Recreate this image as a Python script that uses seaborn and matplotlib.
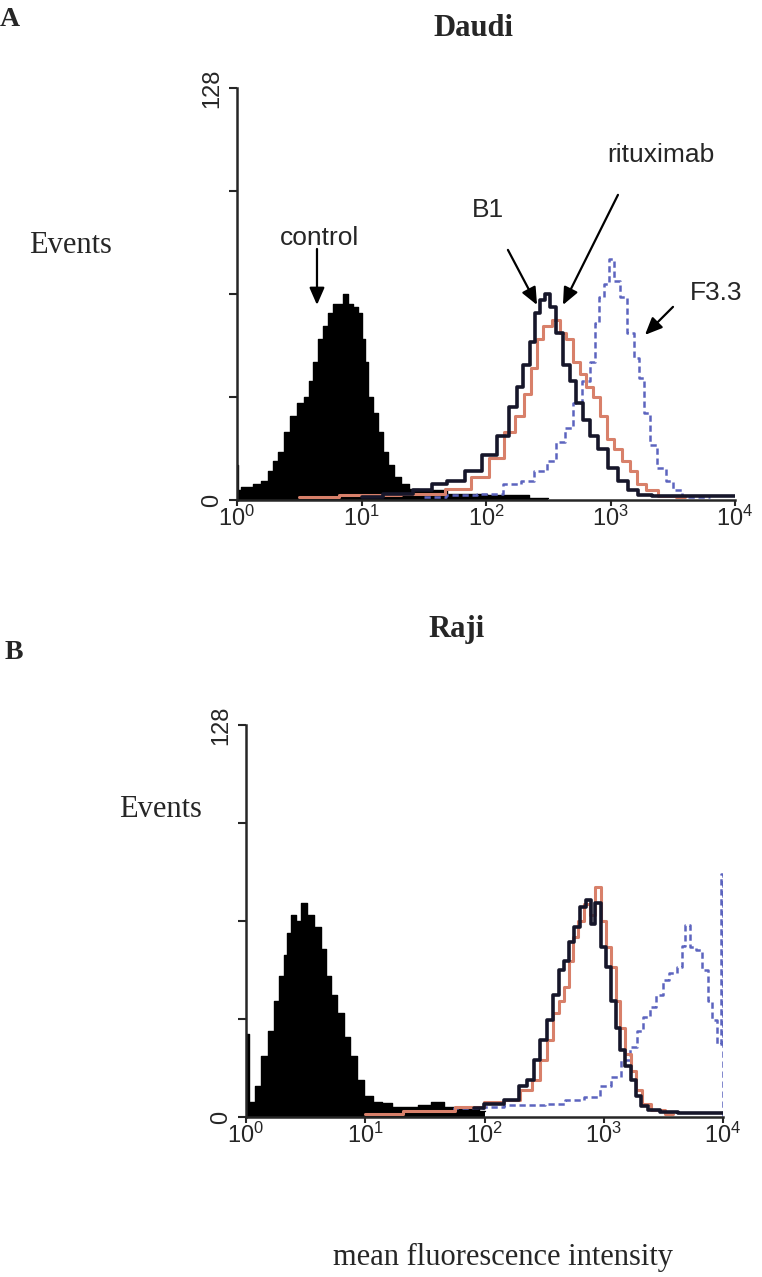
import numpy as np
import matplotlib
matplotlib.use("Agg")
import matplotlib.pyplot as plt
import seaborn as sns

# Daudi (panel A) - x as log10 of fluorescence, y = events
ctrl_top_log = [0.0, 0.02, 0.05, 0.10, 0.16, 0.22, 0.27, 0.30, 0.35, 0.40,
                0.455, 0.51, 0.56, 0.59, 0.63, 0.67, 0.71, 0.75, 0.79, 0.83,
                0.87, 0.91, 0.95, 0.99, 1.02, 1.04, 1.07, 1.11, 1.15, 1.19,
                1.23, 1.29, 1.34, 1.42, 1.50, 1.61, 1.75, 1.90, 2.1, 2.5]
ctrl_top_h = [11, 3, 4, 4, 5, 6, 9, 12, 15, 21,
              26, 30, 32, 37, 43, 50, 54, 58, 61, 61,
              64, 61, 60, 58, 50, 43, 32, 27, 21, 15,
              11, 7, 5, 3.5, 3, 3, 2, 2, 1.5, 0.5]

b1_top_log = [1.0, 1.3, 1.5, 1.63, 1.74, 1.90, 2.03, 2.14, 2.22, 2.27,
              2.33, 2.37, 2.41, 2.45, 2.49, 2.54, 2.59, 2.65, 2.70, 2.75,
              2.81, 2.86, 2.94, 3.02, 3.10, 3.18, 3.26, 3.4, 3.6, 3.8, 4.0]
b1_top_h = [1, 2, 3, 5, 6, 9, 14, 20, 29, 35,
            42, 49, 58, 62, 64, 60, 52, 42, 37, 30,
            25, 20, 16, 10, 6, 3, 1.5, 1.2, 1.2, 1.2, 1.2]

rtx_top_log = [0.5, 1.0, 1.5, 1.79, 1.95, 2.09, 2.19, 2.27, 2.34, 2.38,
               2.43, 2.49, 2.56, 2.62, 2.67, 2.73, 2.78, 2.83, 2.89, 2.94,
               3.00, 3.05, 3.13, 3.18, 3.24, 3.32, 3.43, 3.6]
rtx_top_h = [1, 1.5, 2, 3.3, 7, 13, 21, 26, 33, 41,
             50, 54, 56, 52, 50, 43, 39, 35, 32, 26,
             19, 16, 12, 9, 5, 3, 1.3, 0.8]

f33_top_log = [1.5, 1.8, 2.03, 2.22, 2.33, 2.43, 2.54, 2.59, 2.67, 2.73,
               2.81, 2.86, 2.89, 2.93, 2.97, 3.01, 3.05, 3.10, 3.16, 3.21,
               3.25, 3.29, 3.34, 3.40, 3.48, 3.53, 3.61, 3.8]
f33_top_h = [1, 1.5, 2, 5, 6, 9, 12, 18, 22.5, 30,
             37, 43, 55, 63, 67, 75, 68, 63, 52, 44,
             38, 27, 17, 10, 6, 3, 1, 0.8]

# Raji (panel B)
ctrl_bot_log = [0.0, 0.05, 0.095, 0.15, 0.21, 0.26, 0.30, 0.33, 0.36, 0.40,
                0.44, 0.485, 0.54, 0.60, 0.65, 0.69, 0.74, 0.79, 0.85, 0.90,
                0.96, 1.02, 1.10, 1.18, 1.27, 1.38, 1.50, 1.60, 1.71, 1.91, 2.0]
ctrl_bot_h = [27, 5, 10, 20, 28, 38, 46, 53, 60, 66,
              64, 70, 66, 62, 55, 46, 40, 34, 26, 20,
              12, 7, 5, 4.5, 3.4, 3.4, 4, 5, 3.4, 3.4, 2]

b1_bot_log = [1.91, 2.07, 2.24, 2.33, 2.38, 2.44, 2.49, 2.55, 2.60, 2.65,
              2.69, 2.73, 2.77, 2.83, 2.87, 2.91, 2.95, 3.00, 3.04, 3.08,
              3.12, 3.16, 3.20, 3.25, 3.29, 3.33, 3.41, 3.53, 3.7, 3.85, 4.0]
b1_bot_h = [2.8, 4.4, 5.5, 10, 12, 18.5, 25, 31.6, 40, 48,
            51, 57, 62, 68.5, 71, 63, 70, 55.5, 49, 38,
            29, 22, 16.5, 12, 7, 3.5, 2.4, 1.6, 1.2, 1.2, 1.2]

rtx_bot_log = [1.0, 1.5, 1.91, 2.07, 2.24, 2.35, 2.44, 2.49, 2.55, 2.60,
               2.65, 2.69, 2.72, 2.76, 2.80, 2.86, 2.91, 2.95, 3.00, 3.04,
               3.08, 3.12, 3.16, 3.20, 3.25, 3.29, 3.35, 3.44, 3.58]
rtx_bot_h = [1, 2, 3.3, 5, 5.5, 8.8, 12, 18.5, 25, 33.8,
             38, 42.4, 51, 58.7, 64, 69.6, 66, 75, 64, 55.5,
             49, 38, 29, 20.6, 15, 8.8, 4.4, 2.2, 1.1]

f33_bot_log = [1.5, 1.9, 2.08, 2.24, 2.41, 2.58, 2.75, 2.91, 3.02, 3.10,
               3.19, 3.25, 3.30, 3.36, 3.41, 3.47, 3.52, 3.58, 3.64, 3.67,
               3.69, 3.75, 3.80, 3.85, 3.89, 3.93, 3.97, 3.995, 4.0]
f33_bot_h = [2, 3, 3.3, 3.8, 3.8, 4.4, 5.5, 6.6, 10, 13,
             18.5, 23, 28, 32.5, 36, 40, 44.6, 47, 49, 56,
             62.6, 55.5, 54.4, 48, 38, 31.6, 24, 79.4, 0]

y_ticks = [0, 32, 64, 96, 128]
y_labels = ["0", "", "", "", "128"]
x_ticks = [1, 10, 100, 1000, 10000]
x_labels = [r"$10^{0}$", r"$10^{1}$", r"$10^{2}$", r"$10^{3}$", r"$10^{4}$"]

RED = "#d8806a"
BLUE = "#5c64bf"
DARK = "#16162a"

sns.set_style("ticks")
plt.rcParams["font.family"] = ["Liberation Sans", "DejaVu Sans"]
plt.rcParams["mathtext.default"] = "regular"

W, H = 762, 1277
fig = plt.figure(figsize=(W / 100, H / 100), dpi=100)


def px(x, y):
    return x / W, 1 - y / H


def histo(ax, lg, h, **kw):
    sns.lineplot(x=10 ** np.array(lg), y=h, ax=ax, drawstyle="steps-mid",
                 estimator=None, sort=False, **kw)


def style_axes(ax):
    ax.set_xscale("log")
    ax.set_xlim(1, 10000)
    ax.set_ylim(0, 128)
    ax.set_xticks(x_ticks)
    ax.set_xticklabels(x_labels, fontsize=17)
    ax.set_yticks(y_ticks)
    ax.set_yticklabels(y_labels, fontsize=17, rotation=90, va="center")
    ax.minorticks_off()
    ax.tick_params(axis="x", length=4, width=1.5, pad=0)
    ax.tick_params(axis="y", length=6, width=1.5, pad=4)
    for s in ["left", "bottom"]:
        ax.spines[s].set_linewidth(1.8)
    sns.despine(ax=ax)
    ax.set_xlabel("")
    ax.set_ylabel("")


def panel(ax, ctrl, b1, rtx, f33):
    x = 10 ** np.array(ctrl[0])
    ax.fill_between(x, ctrl[1], step="mid", color="black", lw=0)
    histo(ax, ctrl[0], ctrl[1], color="black", lw=1)
    histo(ax, f33[0], f33[1], color=BLUE, lw=1.8, dashes=(2.5, 1.5))
    histo(ax, rtx[0], rtx[1], color=RED, lw=2.2)
    histo(ax, b1[0], b1[1], color=DARK, lw=2.6)
    style_axes(ax)


ax1 = fig.add_axes([237 / W, 1 - 500 / H, 498 / W, 412 / H])
panel(ax1, (ctrl_top_log, ctrl_top_h), (b1_top_log, b1_top_h),
      (rtx_top_log, rtx_top_h), (f33_top_log, f33_top_h))

ax2 = fig.add_axes([246 / W, 1 - 1117 / H, 477 / W, 392 / H])
panel(ax2, (ctrl_bot_log, ctrl_bot_h), (b1_bot_log, b1_bot_h),
      (rtx_bot_log, rtx_bot_h), (f33_bot_log, f33_bot_h))

# arrows on panel A
arrow = dict(arrowstyle="-|>,head_length=0.8,head_width=0.35", color="black",
             lw=1.6, mutation_scale=13, shrinkA=0, shrinkB=0)
ax1.annotate("", xy=(4.39, 60.6), xytext=(4.39, 78), arrowprops=arrow)
ax1.annotate("", xy=(257, 60.6), xytext=(150, 77.7), arrowprops=arrow)
ax1.annotate("", xy=(415, 60.6), xytext=(1148, 94.8), arrowprops=arrow)
ax1.annotate("", xy=(1893, 51.3), xytext=(3177, 60), arrowprops=arrow)

sans = dict(fontsize=19, va="baseline")
fig.text(*px(280, 245), "control", **sans)
fig.text(*px(472, 217), "B1", **sans)
fig.text(*px(607, 162), "rituximab", **sans)
fig.text(*px(690, 300), "F3.3", **sans)

serif = ["Liberation Serif", "DejaVu Serif"]
fig.text(*px(0, 26), "A", family=serif, fontsize=20, fontweight="bold", va="baseline")
fig.text(*px(473, 36), "Daudi", family=serif, fontsize=22, fontweight="bold",
         ha="center", va="baseline")
fig.text(*px(29, 253), "Events", family=serif, fontsize=22, va="baseline")

fig.text(*px(5, 659), "B", family=serif, fontsize=20, fontweight="bold", va="baseline")
fig.text(*px(457, 637), "Raji", family=serif, fontsize=22, fontweight="bold",
         ha="center", va="baseline")
fig.text(*px(119, 817), "Events", family=serif, fontsize=22, va="baseline")
fig.text(*px(503, 1265), "mean fluorescence intensity", family=serif, fontsize=22,
         ha="center", va="baseline")

fig.savefig("out.png", dpi=100, facecolor="white")
